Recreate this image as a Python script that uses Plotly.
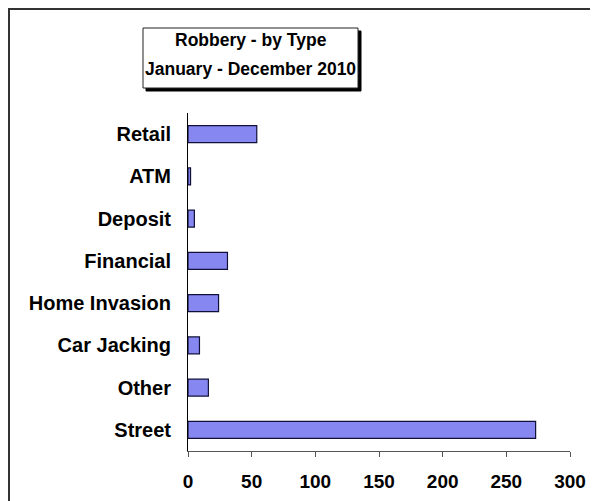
import plotly.graph_objects as go

categories = ["Retail", "ATM", "Deposit", "Financial", "Home Invasion", "Car Jacking", "Other", "Street"]
values = [54, 2, 5, 31, 24, 9, 16, 273]
x_ticks = [0, 50, 100, 150, 200, 250, 300]
title_lines = ["Robbery - by Type", "January - December 2010"]

# page has an 8px body margin; figure coordinates = page coords - 8
W, H = 590, 493
L, R, T, B = 180, 28, 105, 50
PW, PH = W - L - R, H - T - B
OFF = 8

def px(x):
    return (x - OFF - L) / PW

def py(y):
    return (H - B - (y - OFF)) / PH

FONT = "Liberation Sans, Arial, sans-serif"

fig = go.Figure()
fig.add_trace(go.Bar(
    y=categories, x=values, orientation="h",
    marker=dict(color="#8787f2", line=dict(color="#10103a", width=1.2)),
    hoverinfo="x+y",
))

shapes = [
    # outer border
    dict(type="rect", xref="paper", yref="paper",
         x0=px(9), x1=px(610), y0=py(515), y1=py(9),
         line=dict(color="#333333", width=2), fillcolor="rgba(0,0,0,0)", layer="below"),
    # title box shadow
    dict(type="rect", xref="paper", yref="paper",
         x0=px(146), x1=px(361), y0=py(91), y1=py(31),
         line=dict(color="black", width=1), fillcolor="black", layer="above"),
    # title box
    dict(type="rect", xref="paper", yref="paper",
         x0=px(143), x1=px(358), y0=py(88), y1=py(28),
         line=dict(color="#222222", width=1), fillcolor="white", layer="above"),
]

annotations = [
    dict(text=f"<b>{title_lines[0]}</b>", xref="paper", yref="paper",
         x=px(250.5), y=py(40), xanchor="center", yanchor="middle", showarrow=False,
         font=dict(family=FONT, size=17.5, color="black")),
    dict(text=f"<b>{title_lines[1]}</b>", xref="paper", yref="paper",
         x=px(250.5), y=py(69), xanchor="center", yanchor="middle", showarrow=False,
         font=dict(family=FONT, size=17.5, color="black")),
]

fig.update_layout(
    width=W, height=H,
    margin=dict(l=L, r=R, t=T, b=B, autoexpand=False),
    paper_bgcolor="white", plot_bgcolor="white",
    showlegend=False,
    bargap=0.6,
    shapes=shapes,
    annotations=annotations,
    xaxis=dict(
        range=[0, 300], tickvals=x_ticks, ticktext=[f"<b>{v}</b>" for v in x_ticks],
        showgrid=False, zeroline=False,
        showline=True, linecolor="#555555", linewidth=1,
        ticks="outside", ticklen=5, tickcolor="#555555",
        ticklabelstandoff=8,
        tickfont=dict(family=FONT, size=19, color="black"),
    ),
    yaxis=dict(
        autorange="reversed",
        tickvals=categories, ticktext=[f"<b>{c}</b>" for c in categories],
        showgrid=False, zeroline=False,
        showline=True, linecolor="black", linewidth=1,
        ticks="", ticklabelstandoff=12,
        tickfont=dict(family=FONT, size=20, color="black"),
    ),
)

fig.write_html("out.html")
